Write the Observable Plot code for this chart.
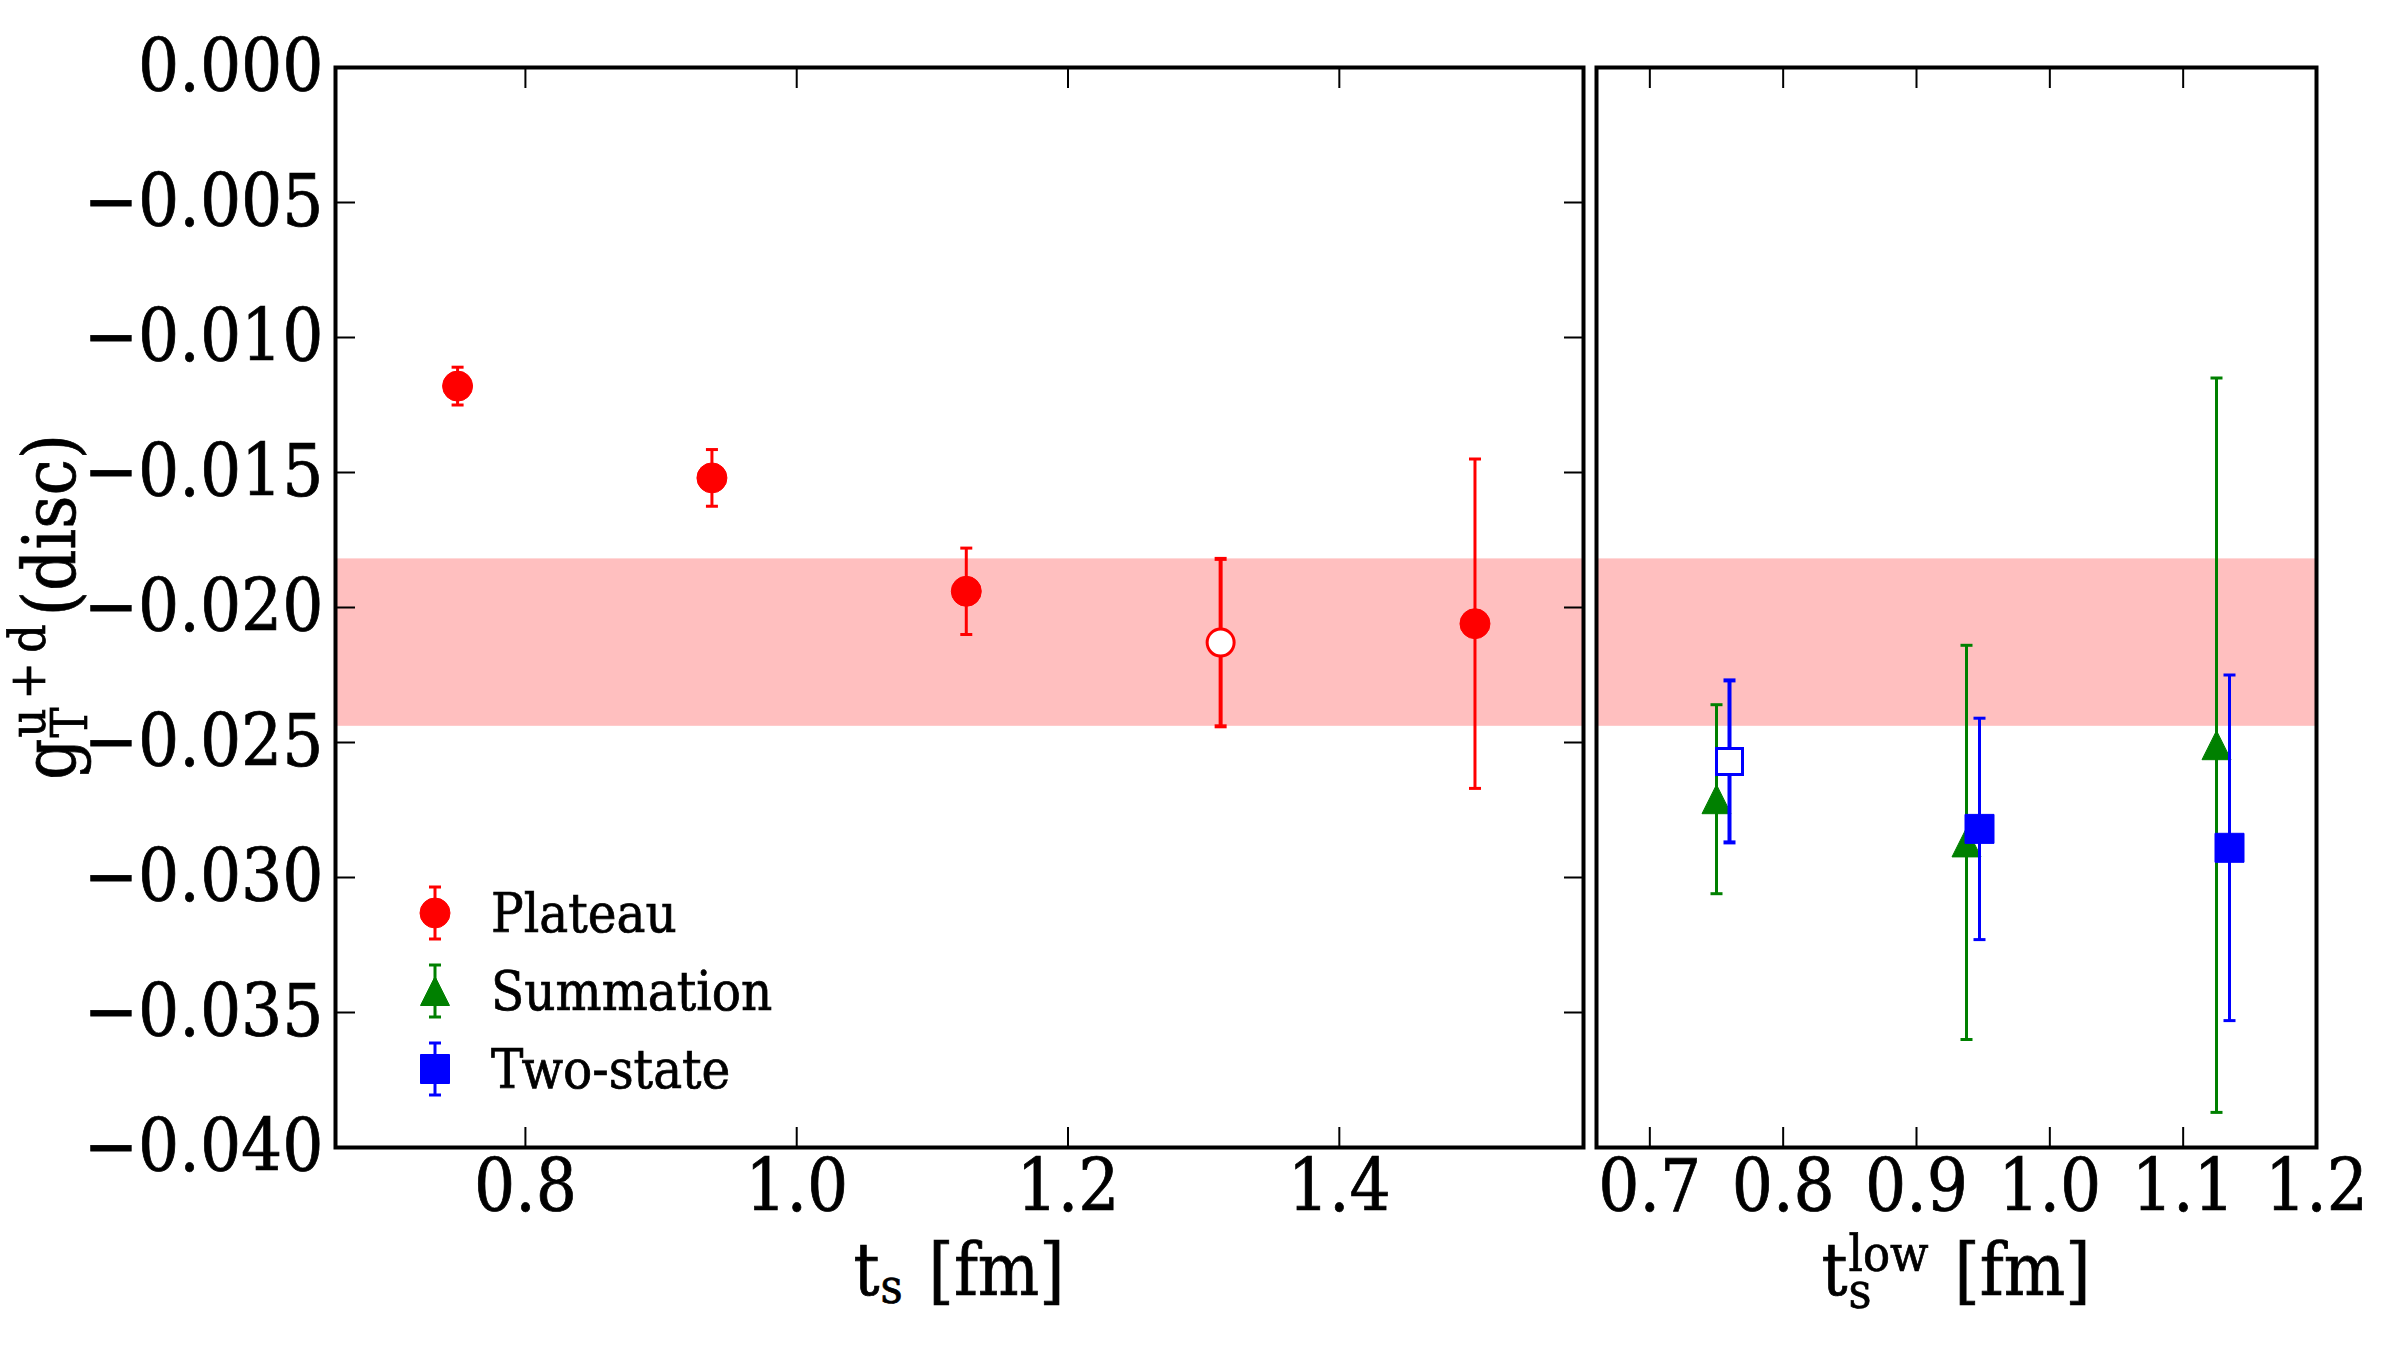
<!DOCTYPE html>
<html>
<head>
<meta charset="utf-8">
<script src="https://cdn.jsdelivr.net/npm/d3@7"></script>
<script src="https://cdn.jsdelivr.net/npm/@observablehq/plot@0.6"></script>
<style>
  html, body { margin: 0; padding: 0; background: #fff; }
  #fig { position: relative; width: 2400px; height: 1350px; overflow: hidden; background: #fff; }
  #fig svg { position: absolute; top: 0; }
  #fig svg text { font-family: "DejaVu Serif Condensed", "DejaVu Serif", serif; font-stretch: condensed;
                  stroke: #000; stroke-width: 0.7px; }
</style>
</head>
<body>
<div id="fig"></div>
<script>
// ---- Plateau fits versus source–sink separation t_s ----
const ts = [0.75, 0.9375, 1.125, 1.3125, 1.5];
const plateauValue = [-0.0118, -0.0152, -0.0194, -0.0213, -0.0206];
const plateauError = [0.0007, 0.00105, 0.0016, 0.0031, 0.0061];
const plateauChosen = [false, false, false, true, false];

// ---- Summation and two-state fits versus the smallest t_s included ----
const tsLow = [0.75, 0.9375, 1.125];
const summationValue = [-0.0271, -0.0287, -0.0251];
const summationError = [0.0035, 0.0073, 0.0136];
const twoStateValue = [-0.0257, -0.0282, -0.0289];
const twoStateError = [0.0030, 0.0041, 0.0064];
const twoStateChosen = [true, false, false];

// ---- Final estimate, shown as a band ----
const finalValue = -0.0213;
const finalError = 0.0031;

// ---- Axes ----
const yDomain = [-0.040, 0.000];
const yTicks = [0, -0.005, -0.010, -0.015, -0.020, -0.025, -0.030, -0.035, -0.040];
const leftXDomain = [0.66, 1.58];
const leftXTicks = [0.8, 1.0, 1.2, 1.4];
const rightXDomain = [0.66, 1.2];
const rightXTicks = [0.7, 0.8, 0.9, 1.0, 1.1, 1.2];
const legendLabels = ["Plateau", "Summation", "Two-state"];

const RED = "#ff0000", GREEN = "#008000", BLUE = "#0000ff", BAND = "#ffbfbf";

const plateau = ts.map((t, i) => ({t, v: plateauValue[i], e: plateauError[i], chosen: plateauChosen[i]}));
const summation = tsLow.map((t, i) => ({t, v: summationValue[i], e: summationError[i], chosen: false}));
const twoState = tsLow.map((t, i) => ({t, v: twoStateValue[i], e: twoStateError[i], chosen: twoStateChosen[i]}));
const band = [{v: finalValue, e: finalError}];

// custom marker shapes; "size" arrives as pi*r^2, r is the half-extent
const half = size => Math.sqrt(size / Math.PI);
const capSymbol = {draw(ctx, size) { const r = half(size); ctx.moveTo(-r, 0); ctx.lineTo(r, 0); }};
const squareSymbol = {draw(ctx, size) { const r = half(size); ctx.rect(-r, -r, 2 * r, 2 * r); }};
const triangleSymbol = {draw(ctx, size) { const r = half(size); ctx.moveTo(0, -r); ctx.lineTo(r, r); ctx.lineTo(-r, r); ctx.closePath(); }};
const circleSymbol = {draw(ctx, size) { const r = half(size); ctx.moveTo(r, 0); ctx.arc(0, 0, r, 0, 2 * Math.PI); }};

const fmtY = d => (d < 0 ? "\u2212" : "") + Math.abs(d).toFixed(3);
const fmtX = d => d.toFixed(1);

const H = 1350, TOP = 67, BOTTOM = 1147;
const FONT = 72;
const style = {fontFamily: "'DejaVu Serif Condensed', 'DejaVu Serif', serif", fontSize: FONT + "px", background: "transparent", overflow: "visible"};

// error bars with caps, then markers, for one series
function series(data, {color, symbol, r, dx = 0}) {
  const lo = d => d.v - d.e, hi = d => d.v + d.e;
  const out = [];
  for (const chosen of [false, true]) {
    const f = d => d.chosen === chosen;
    const sw = chosen ? 4 : 3;
    out.push(
      Plot.ruleX(data, {filter: f, x: "t", y1: lo, y2: hi, stroke: color, strokeWidth: sw, dx}),
      Plot.dot(data, {filter: f, x: "t", y: lo, symbol: capSymbol, r: 6, stroke: color, strokeWidth: sw, fill: "none", dx}),
      Plot.dot(data, {filter: f, x: "t", y: hi, symbol: capSymbol, r: 6, stroke: color, strokeWidth: sw, fill: "none", dx}),
      chosen
        ? Plot.dot(data, {filter: f, x: "t", y: "v", symbol, r: r - 1.5, fill: "white", stroke: color, strokeWidth: 3, dx})
        : Plot.dot(data, {filter: f, x: "t", y: "v", symbol, r, fill: color, stroke: color, strokeWidth: 1, dx})
    );
  }
  return out;
}

const inwardAxes = (xTicks, withY) => [
  Plot.axisX({anchor: "bottom", ticks: xTicks, tickFormat: fmtX, tickSize: -20, tickPadding: 32.5, strokeWidth: 2, label: null, fontSize: FONT}),
  Plot.axisX({anchor: "top", ticks: xTicks, tickFormat: () => "", tickSize: -20, strokeWidth: 2, label: null}),
  ...(withY ? [
    Plot.axisY({anchor: "left", ticks: yTicks, tickFormat: fmtY, tickSize: -20, tickPadding: 32, strokeWidth: 2, label: null, fontSize: FONT}),
    Plot.axisY({anchor: "right", ticks: yTicks, tickFormat: () => "", tickSize: -20, strokeWidth: 2, label: null})
  ] : [])
];

const bandMark = Plot.rect(band, {y1: d => d.v - d.e, y2: d => d.v + d.e, fill: BAND});

const leftPlot = Plot.plot({
  width: 1590, height: H,
  marginLeft: 335, marginRight: 7, marginTop: TOP, marginBottom: H - BOTTOM,
  x: {domain: leftXDomain},
  y: {domain: yDomain},
  style,
  marks: [
    bandMark,
    ...series(plateau, {color: RED, symbol: circleSymbol, r: 15}),
    ...inwardAxes(leftXTicks, true),
    Plot.frame({stroke: "black", strokeWidth: 4})
  ]
});

const rightPlot = Plot.plot({
  width: 810, height: H,
  marginLeft: 6, marginRight: 84, marginTop: TOP, marginBottom: H - BOTTOM,
  x: {domain: rightXDomain},
  y: {domain: yDomain, axis: null},
  style,
  marks: [
    bandMark,
    ...series(summation, {color: GREEN, symbol: triangleSymbol, r: 14.5}),
    ...series(twoState, {color: BLUE, symbol: squareSymbol, r: 14.5, dx: 13}),
    ...inwardAxes(rightXTicks, false),
    Plot.frame({stroke: "black", strokeWidth: 4})
  ]
});

const fig = document.getElementById("fig");
leftPlot.style.left = "0px";
rightPlot.style.left = "1590px";
fig.append(leftPlot, rightPlot);

// axis titles with sub- and superscripts: one text element, tspans placed from measured widths
function scriptLabel(svg, {x, y, rotate = 0, base, sub, sup, tail, size, scriptSize, subShift, supShift, tailGap}) {
  const outer = d3.select(svg).append("g").attr("transform", `translate(${x},${y}) rotate(${rotate})`);
  const text = outer.append("text").attr("text-anchor", "start").attr("fill", "black");
  const put = (txt, px, py, fs) => text.append("tspan").attr("x", px).attr("y", py).attr("font-size", fs).text(txt);
  let cx = put(base, 0, 0, size).node().getComputedTextLength();
  let sw = 0;
  if (sub) sw = Math.max(sw, put(sub, cx + 1, subShift, scriptSize).node().getComputedTextLength() + 1);
  if (sup) sw = Math.max(sw, put(sup, cx + 1, supShift, scriptSize).node().getComputedTextLength() + 1);
  cx += sw + tailGap;
  cx += put(tail, cx, 0, size).node().getComputedTextLength();
  text.attr("transform", `translate(${-cx / 2},0)`);
}

scriptLabel(leftPlot, {x: 75, y: (TOP + BOTTOM) / 2, rotate: -90, base: "g", sub: "T", sup: "u\u2009+\u2009d",
  tail: "(disc)", size: 72, scriptSize: 50, subShift: 12, supShift: -30, tailGap: 8});
scriptLabel(leftPlot, {x: 959, y: 1295, base: "t", sub: "s", tail: "[fm]",
  size: 72, scriptSize: 48, subShift: 8, tailGap: 26});
scriptLabel(rightPlot, {x: 366, y: 1295, base: "t", sub: "s", sup: "low",
  tail: "[fm]", size: 72, scriptSize: 50, subShift: 13, supShift: -24, tailGap: 26});

// legend inside the left panel
const legend = d3.select(leftPlot).append("g").attr("text-anchor", "start");
const legendRows = [
  {label: legendLabels[0], color: RED, symbol: circleSymbol, r: 15},
  {label: legendLabels[1], color: GREEN, symbol: triangleSymbol, r: 14.5},
  {label: legendLabels[2], color: BLUE, symbol: squareSymbol, r: 14.5}
];
legendRows.forEach((row, i) => {
  const g = legend.append("g").attr("transform", `translate(435,${913 + i * 78})`);
  g.append("line").attr("y1", -26).attr("y2", 26).attr("stroke", row.color).attr("stroke-width", 3);
  for (const yy of [-26, 26]) g.append("line").attr("x1", -6).attr("x2", 6).attr("y1", yy).attr("y2", yy)
    .attr("stroke", row.color).attr("stroke-width", 3);
  g.append("path").attr("d", d3.symbol(row.symbol, Math.PI * row.r * row.r)()).attr("fill", row.color)
    .attr("stroke", row.color).attr("stroke-width", 1);
  g.append("text").attr("x", 56).attr("y", 19).attr("font-size", 54).attr("fill", "black")
    .attr("text-anchor", "start").text(row.label);
});
</script>
</body>
</html>
